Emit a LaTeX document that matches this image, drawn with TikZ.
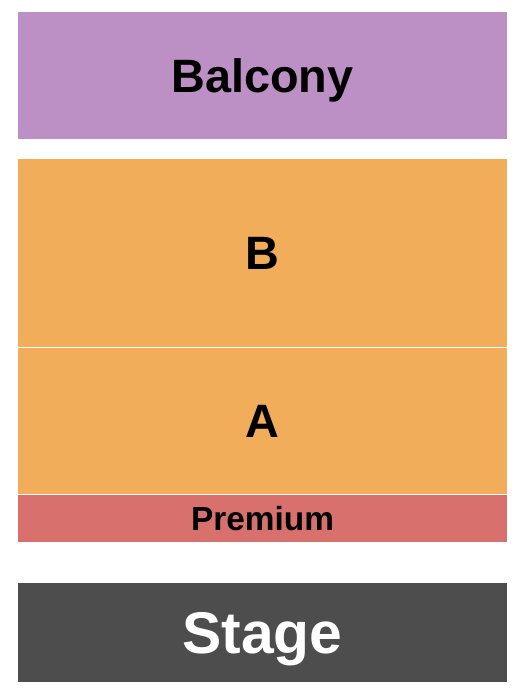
\documentclass[tikz,border=0pt]{standalone}
\usepackage{fontspec}
\setmainfont{Liberation Sans}
\definecolor{balconyc}{HTML}{BC8FC5}
\definecolor{floorc}{HTML}{F2AD5A}
\definecolor{premiumc}{HTML}{D8706E}
\definecolor{stagec}{HTML}{4D4D4D}
\tikzset{
  section/.style={inner sep=0pt, minimum width=489pt, text depth=0pt},
  biglabel/.style={font=\fontsize{46.8}{50}\selectfont\bfseries, text height=33.5pt},
  smalllabel/.style={font=\fontsize{33.4}{36}\selectfont\bfseries, text height=23.9pt},
  stagelabel/.style={font=\fontsize{58.8}{62}\selectfont\bfseries, text height=42.1pt, text=white}
}

\begin{document}
\begin{tikzpicture}[x=1pt,y=-1pt]
\useasboundingbox[fill=white] (0,0) rectangle (525,700);
% seating blocks, top to bottom
\node[section, biglabel, fill=balconyc, minimum height=127pt] (balcony) at (262.5,75.5) {Balcony};
\node[section, biglabel, fill=floorc, minimum height=188.3pt] (secB) at (262.5,253.15) {B};
\node[section, biglabel, fill=floorc, minimum height=145.4pt] (secA) at (262.5,421) {A};
\node[section, smalllabel, fill=premiumc, minimum height=47.3pt] (premium) at (262.5,518.35) {Premium};
% stage
\node[section, stagelabel, fill=stagec, minimum height=99pt] (stage) at (262.5,632.5) {Stage};
\end{tikzpicture}
\end{document}
